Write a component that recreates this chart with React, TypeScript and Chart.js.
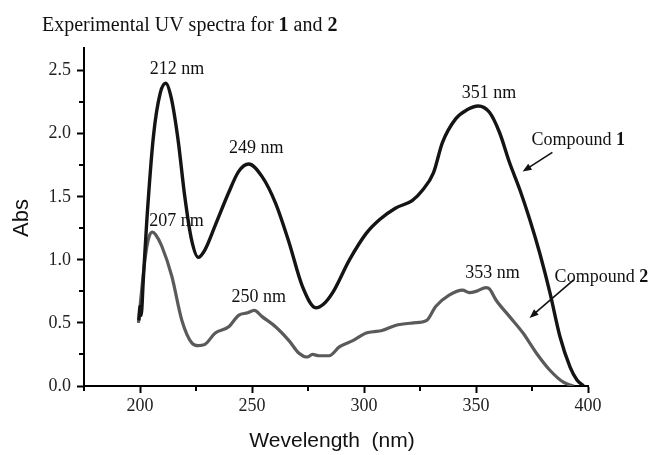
import React, { useEffect, useRef } from 'react';
import { Chart, registerables } from 'chart.js';

Chart.register(...registerables);

// ---- Data ----
const compound1Wavelength = [199.5, 200.0, 200.5, 201.5, 203, 206, 209, 211.5, 214, 217, 220, 223, 226, 229, 233.5, 239.5, 244, 248.5, 254.5, 260.5, 266.5, 272.5, 278.5, 282, 286, 293.5, 301, 307, 314, 321.5, 326, 331, 335, 341, 346, 351, 356, 360.5, 365, 369.5, 374, 378.5, 383, 387.5, 392, 395, 398];
const compound1Abs = [0.52, 0.63, 0.56, 0.85, 1.3, 1.98, 2.32, 2.40, 2.28, 1.95, 1.5, 1.16, 1.02, 1.08, 1.27, 1.53, 1.70, 1.76, 1.66, 1.45, 1.14, 0.79, 0.62, 0.65, 0.74, 1.0, 1.21, 1.32, 1.41, 1.47, 1.55, 1.69, 1.93, 2.12, 2.19, 2.22, 2.17, 2.01, 1.77, 1.56, 1.32, 1.05, 0.74, 0.39, 0.15, 0.05, 0.0];

const compound2Wavelength = [199.3, 202.2, 204, 205.5, 207, 209.7, 214.2, 218.7, 223.2, 226, 229, 233.6, 239.6, 244, 248, 251, 254.5, 260.5, 266.5, 271, 274.7, 277, 280, 284.4, 289, 295, 301, 304, 308, 314, 322, 328, 332, 338, 344, 347, 350, 354.5, 356, 359, 365, 371, 377, 383, 389, 393.5];
const compound2Abs = [0.5, 1.0, 1.18, 1.22, 1.2, 1.11, 0.87, 0.52, 0.34, 0.32, 0.33, 0.42, 0.47, 0.56, 0.58, 0.6, 0.55, 0.47, 0.36, 0.26, 0.23, 0.25, 0.24, 0.24, 0.31, 0.36, 0.42, 0.43, 0.44, 0.48, 0.5, 0.52, 0.63, 0.72, 0.76, 0.74, 0.75, 0.78, 0.77, 0.68, 0.55, 0.42, 0.26, 0.125, 0.03, 0.0];

const xMajorTicks = [200, 250, 300, 350, 400];
const xMinorTicks = [175, 225, 275, 325, 375];
const yMajorTicks = [0, 0.5, 1.0, 1.5, 2.0, 2.5];
const yMinorTicks = [0.25, 0.75, 1.25, 1.75, 2.25];

const peakLabels = ['212 nm', '249 nm', '351 nm', '207 nm', '250 nm', '353 nm'];
const peakLabelX = [216.5, 251.9, 355.8, 216.3, 253.0, 357.4];
const peakLabelY = [2.51, 1.885, 2.32, 1.31, 0.70, 0.89];

const seriesNames = ['Compound ', 'Compound '];
const seriesNumbers = ['1', '2'];
const seriesLabelX = [374.8, 385.1];
const seriesLabelY = [1.95, 0.86];
const arrowFromX = [384.1, 393.6];
const arrowFromY = [1.853, 0.842];
const arrowToX = [370.8, 373.9];
const arrowToY = [1.70, 0.54];

const SERIF = '"Liberation Serif", "Times New Roman", serif';
const SANS = '"Liberation Sans", Arial, sans-serif';

const decorations = {
  id: 'decorations',
  afterDraw(chart: any) {
    const ctx: CanvasRenderingContext2D = chart.ctx;
    const xs = chart.scales.x;
    const ys = chart.scales.y;
    ctx.save();

    // minor ticks
    ctx.strokeStyle = '#000';
    ctx.lineWidth = 2;
    xMinorTicks.forEach((v) => {
      const px = Math.round(xs.getPixelForValue(v));
      ctx.beginPath();
      ctx.moveTo(px, xs.top);
      ctx.lineTo(px, xs.top + 5);
      ctx.stroke();
    });
    yMinorTicks.forEach((v) => {
      const py = Math.round(ys.getPixelForValue(v));
      ctx.beginPath();
      ctx.moveTo(ys.right, py);
      ctx.lineTo(ys.right - 5, py);
      ctx.stroke();
    });

    // title
    ctx.fillStyle = '#111';
    ctx.textBaseline = 'alphabetic';
    ctx.textAlign = 'left';
    const parts: [string, boolean][] = [
      ['Experimental UV spectra for ', false],
      ['1', true],
      [' and ', false],
      ['2', true],
    ];
    let tx = 42;
    parts.forEach(([t, b]) => {
      ctx.font = `${b ? 'bold ' : ''}20px ${SERIF}`;
      ctx.fillText(t, tx, 31);
      tx += ctx.measureText(t).width;
    });

    // axis titles
    ctx.font = `21px ${SANS}`;
    ctx.textAlign = 'center';
    ctx.textBaseline = 'middle';
    ctx.fillText('Wevelength  (nm)', 332, 441);
    ctx.save();
    ctx.translate(22, 218);
    ctx.rotate(-Math.PI / 2);
    ctx.font = `22px ${SANS}`;
    ctx.fillText('Abs', 0, 0);
    ctx.restore();

    // peak labels
    ctx.font = `18px ${SERIF}`;
    ctx.textAlign = 'center';
    ctx.textBaseline = 'middle';
    ctx.fillStyle = '#111';
    peakLabels.forEach((t, i) => {
      ctx.fillText(t, xs.getPixelForValue(peakLabelX[i]), ys.getPixelForValue(peakLabelY[i]));
    });

    // series labels with arrows
    seriesNames.forEach((name, i) => {
      const lx = xs.getPixelForValue(seriesLabelX[i]);
      const ly = ys.getPixelForValue(seriesLabelY[i]);
      ctx.textAlign = 'left';
      ctx.font = `18px ${SERIF}`;
      ctx.fillStyle = '#111';
      ctx.fillText(name, lx, ly);
      const w = ctx.measureText(name).width;
      ctx.font = `bold 18px ${SERIF}`;
      ctx.fillText(seriesNumbers[i], lx + w, ly);

      const x1 = xs.getPixelForValue(arrowFromX[i]);
      const y1 = ys.getPixelForValue(arrowFromY[i]);
      const x2 = xs.getPixelForValue(arrowToX[i]);
      const y2 = ys.getPixelForValue(arrowToY[i]);
      const ang = Math.atan2(y2 - y1, x2 - x1);
      const hl = 9;
      const hw = 3.5;
      ctx.strokeStyle = '#111';
      ctx.lineWidth = 1.6;
      ctx.beginPath();
      ctx.moveTo(x1, y1);
      ctx.lineTo(x2 - Math.cos(ang) * hl * 0.8, y2 - Math.sin(ang) * hl * 0.8);
      ctx.stroke();
      ctx.beginPath();
      ctx.moveTo(x2, y2);
      ctx.lineTo(x2 - Math.cos(ang) * hl - Math.sin(ang) * hw, y2 - Math.sin(ang) * hl + Math.cos(ang) * hw);
      ctx.lineTo(x2 - Math.cos(ang) * hl + Math.sin(ang) * hw, y2 - Math.sin(ang) * hl - Math.cos(ang) * hw);
      ctx.closePath();
      ctx.fill();
    });

    ctx.restore();
  },
};

export default function App() {
  const canvasRef = useRef<HTMLCanvasElement | null>(null);

  useEffect(() => {
    if (!canvasRef.current) return;
    const chart = new Chart(canvasRef.current, {
      type: 'line',
      data: {
        datasets: [
          {
            label: 'Compound 1',
            data: compound1Wavelength.map((x, i) => ({ x, y: compound1Abs[i] })),
            borderColor: '#141414',
            borderWidth: 3.4,
            pointRadius: 0,
            cubicInterpolationMode: 'monotone',
            fill: false,
          },
          {
            label: 'Compound 2',
            data: compound2Wavelength.map((x, i) => ({ x, y: compound2Abs[i] })),
            borderColor: '#5a5a5a',
            borderWidth: 3.2,
            pointRadius: 0,
            cubicInterpolationMode: 'monotone',
            fill: false,
          },
        ],
      },
      options: {
        responsive: false,
        animation: false,
        layout: { padding: { top: 48, right: 69, left: 0, bottom: 0 } },
        plugins: {
          legend: { display: false },
          title: { display: false },
          tooltip: { enabled: false },
        },
        scales: {
          x: {
            type: 'linear',
            min: 175,
            max: 400,
            afterFit: (scale: any) => {
              scale.height = 69;
            },
            afterBuildTicks: (scale: any) => {
              scale.ticks = xMajorTicks.map((v) => ({ value: v }));
            },
            border: { display: true, color: '#000', width: 2 },
            grid: {
              drawOnChartArea: false,
              drawTicks: true,
              tickLength: 7,
              tickWidth: 2,
              tickColor: '#000',
            },
            ticks: {
              color: '#222',
              font: { family: SERIF, size: 18 },
              padding: 2,
              maxRotation: 0,
              callback: (v: any) => String(v),
            },
          },
          y: {
            type: 'linear',
            min: 0,
            max: 2.68,
            afterFit: (scale: any) => {
              scale.width = 84;
            },
            afterBuildTicks: (scale: any) => {
              scale.ticks = yMajorTicks.map((v) => ({ value: v }));
            },
            border: { display: true, color: '#000', width: 2 },
            grid: {
              drawOnChartArea: false,
              drawTicks: true,
              tickLength: 7,
              tickWidth: 2,
              tickColor: '#000',
            },
            ticks: {
              color: '#222',
              font: { family: SERIF, size: 18 },
              padding: 6,
              callback: (v: any) => Number(v).toFixed(1),
            },
          },
        },
      },
      plugins: [decorations],
    });
    return () => chart.destroy();
  }, []);

  return (
    <div style={{ position: 'absolute', left: 0, top: 0, width: 657, height: 455, background: '#fff' }}>
      <canvas ref={canvasRef} width={657} height={455} style={{ display: 'block' }} />
    </div>
  );
}
